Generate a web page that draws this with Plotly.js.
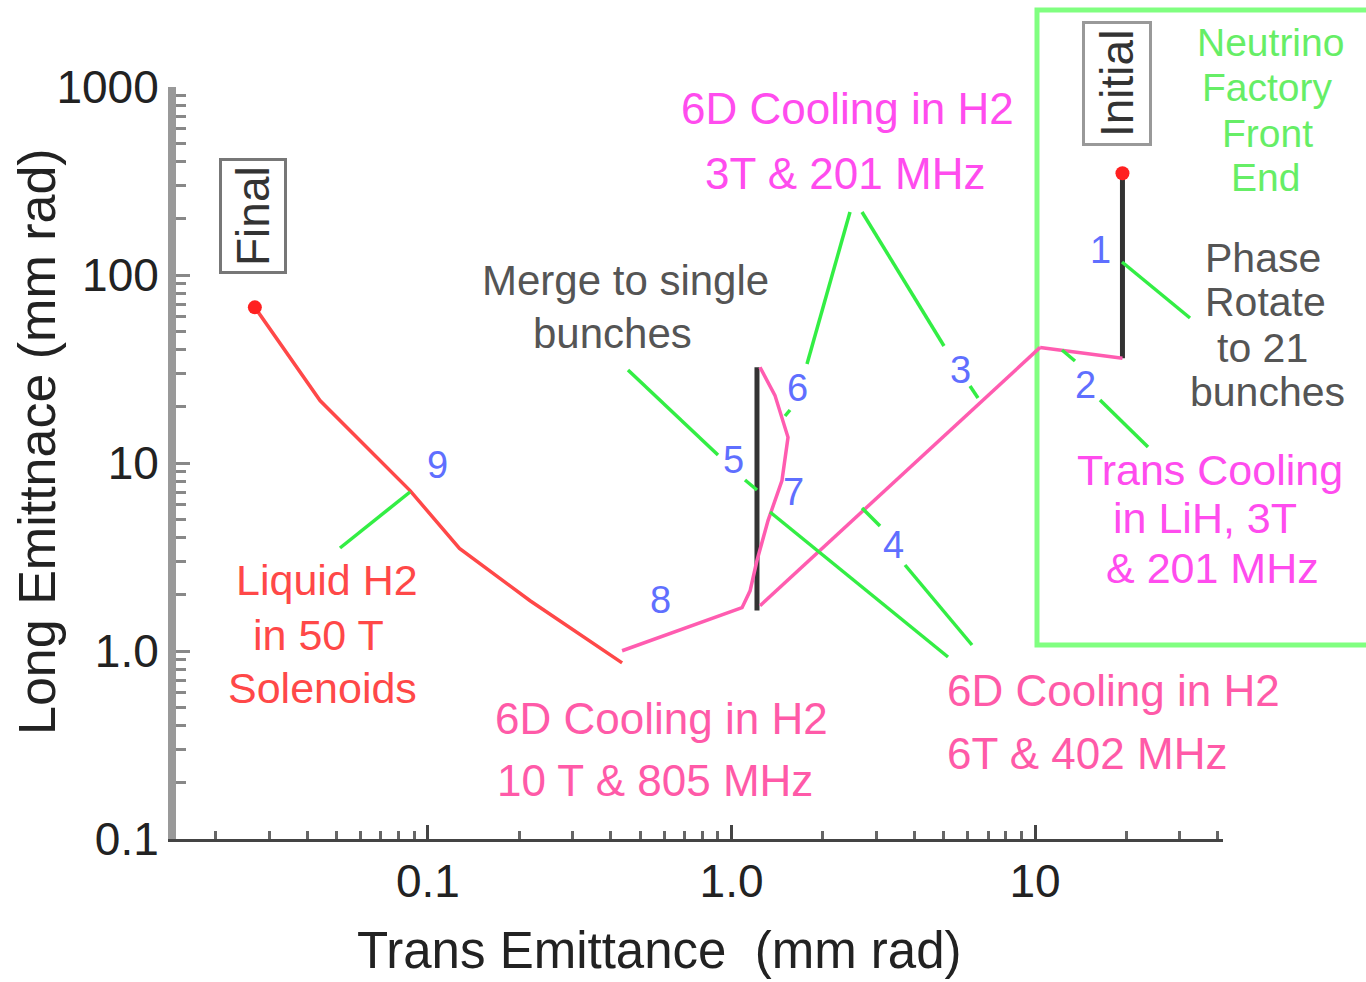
<!DOCTYPE html>
<html>
<head>
<meta charset="utf-8">
<script src="https://cdn.plot.ly/plotly-3.0.1.min.js"></script>
<style>html,body{margin:0;padding:0;background:#fff;}#chart{width:1366px;height:982px;}</style>
</head>
<body>
<div id="chart"></div>
<script>
// ---- data (Trans emittance x, Long emittance y, mm rad) ----
const phaseX = [19.4, 19.4];            // 1: phase rotate
const phaseY = [348, 36.1];
const transX = [19.4, 10.39];           // 2: trans cooling LiH
const transY = [36.1, 41.2];
const diagX = [10.39, 1.241];           // 3-4: 6D cooling 201/402 MHz
const diagY = [41.2, 1.74];
const mergeX = [1.213, 1.213];          // 5: merge to single bunch
const mergeY = [1.64, 32.3];
const recoolX = [1.241, 1.390, 1.535, 1.466, 1.319, 1.213, 1.151, 1.083, 0.436]; // 6-8
const recoolY = [32.3, 22.9, 13.7, 8.07, 4.94, 3.03, 2.09, 1.70, 1.003];
const finalX = [0.436, 0.217, 0.127, 0.0873, 0.0441, 0.0269];  // 9: liquid H2 50 T
const finalY = [0.865, 1.85, 3.51, 7.13, 21.5, 67.3];
const endX = [0.0269, 19.4];            // final & initial points
const endY = [67.3, 348];

const xTickVals = [0.1, 1, 10];
const xTickText = ['0.1', '1.0', '10'];
const yTickVals = [0.1, 1, 10, 100, 1000];
const yTickText = ['0.1', '1.0', '10', '100', '1000'];
const xTitle = 'Trans Emittance \u00a0(mm rad)';
const yTitle = 'Long Emittnace (mm rad)';

const FONT = 'Liberation Sans, Arial, sans-serif';
const L = 176, T = 87, W = 1047, H = 752;
const PX = p => (p - L) / W;
const PY = p => (T + H - p) / H;

const PINK = '#ff5cb0', RED = '#ff4848', BLACK = '#333333', GREEN = '#33ee44';

const traces = [
  {x: phaseX, y: phaseY, mode: 'lines', line: {color: BLACK, width: 5}},
  {x: mergeX, y: mergeY, mode: 'lines', line: {color: BLACK, width: 5}},
  {x: transX, y: transY, mode: 'lines', line: {color: PINK, width: 3.5}},
  {x: diagX, y: diagY, mode: 'lines', line: {color: PINK, width: 3.5}},
  {x: recoolX, y: recoolY, mode: 'lines', line: {color: PINK, width: 3.5}},
  {x: finalX, y: finalY, mode: 'lines', line: {color: RED, width: 3.5}},
  {x: endX, y: endY, mode: 'markers', marker: {color: '#ff2020', size: 14}}
];

function txt(s, px, py, color, size, extra) {
  return Object.assign({xref: 'paper', yref: 'paper', x: PX(px), y: PY(py), text: s,
    showarrow: false, xanchor: 'center', yanchor: 'middle',
    font: {family: FONT, size: size, color: color}}, extra || {});
}

const MAG = '#ff4cee', PNK = '#ff5aa8', GRN = '#66ee66', GRY = '#555555', BLUE = '#5f6fff';
const annotations = [
  txt(xTitle, 659, 950, '#222', 51),
  txt(yTitle, 37, 442, '#222', 52, {textangle: -90}),
  txt('6D Cooling in H2', 847, 108, MAG, 44),
  txt('3T &amp; 201 MHz', 845, 173, MAG, 44),
  txt('Merge to single', 625, 280, GRY, 42),
  txt('bunches', 612, 333, GRY, 42),
  txt('Neutrino', 1270, 43, GRN, 39),
  txt('Factory', 1267, 88, GRN, 39),
  txt('Front', 1267, 133, GRN, 39),
  txt('End', 1265, 178, GRN, 39),
  txt('Phase', 1263, 258, GRY, 41),
  txt('Rotate', 1265, 302, GRY, 41),
  txt('to 21', 1262, 348, GRY, 41),
  txt('bunches', 1267, 392, GRY, 41),
  txt('Trans Cooling', 1210, 470, MAG, 43),
  txt('in LiH, 3T', 1205, 518, MAG, 43),
  txt('&amp; 201 MHz', 1212, 568, MAG, 43),
  txt('Liquid H2', 327, 580, RED, 43),
  txt('in 50 T', 318, 635, RED, 43),
  txt('Solenoids', 322, 688, RED, 43),
  txt('6D Cooling in H2', 661, 718, PNK, 44),
  txt('10 T &amp; 805 MHz', 655, 780, PNK, 44),
  txt('6D Cooling in H2', 945, 690, PNK, 44, {xanchor: 'left'}),
  txt('6T &amp; 402 MHz', 945, 753, PNK, 44, {xanchor: 'left'}),
  txt('1', 1100, 250, BLUE, 38),
  txt('2', 1085, 385, BLUE, 38),
  txt('3', 960, 370, BLUE, 38),
  txt('4', 893, 545, BLUE, 38),
  txt('5', 733, 460, BLUE, 38),
  txt('6', 797, 388, BLUE, 38),
  txt('7', 793, 492, BLUE, 38),
  txt('8', 660, 600, BLUE, 38),
  txt('9', 437, 465, BLUE, 38),
  txt('Final', 253, 216, '#333', 46, {textangle: -90, bordercolor: '#777', borderwidth: 3, borderpad: 5, bgcolor: '#fff'}),
  txt('Initial', 1117, 84, '#333', 46, {textangle: -90, bordercolor: '#999', borderwidth: 3, borderpad: 6, bgcolor: '#fff'})
];

function seg(x0, y0, x1, y1, color, width) {
  return {type: 'line', xref: 'paper', yref: 'paper', x0: PX(x0), y0: PY(y0), x1: PX(x1), y1: PY(y1),
    line: {color: color, width: width}, layer: 'above'};
}
const shapes = [
  {type: 'rect', xref: 'paper', yref: 'paper', x0: PX(1037), x1: PX(1372), y0: PY(645), y1: PY(10),
   line: {color: '#80ff80', width: 5}, layer: 'below'},
  seg(850, 212, 807, 364, GREEN, 3.5),
  seg(790, 410, 785, 416, GREEN, 3.5),
  seg(862, 212, 944, 346, GREEN, 3.5),
  seg(970, 386, 978, 398, GREEN, 3.5),
  seg(628, 370, 718, 455, GREEN, 3.5),
  seg(745, 480, 757, 490, GREEN, 3.5),
  seg(770, 512, 948, 657, GREEN, 3.5),
  seg(862, 508, 880, 526, GREEN, 3.5),
  seg(905, 565, 972, 645, GREEN, 3.5),
  seg(1122, 262, 1190, 318, GREEN, 3.5),
  seg(1062, 350, 1075, 361, GREEN, 3.5),
  seg(1100, 400, 1148, 447, GREEN, 3.5),
  seg(340, 548, 410, 492, GREEN, 3.5)
];

const layout = {
  width: 1366, height: 982,
  margin: {l: L, r: 1366 - L - W, t: T, b: 982 - T - H},
  paper_bgcolor: '#fff', plot_bgcolor: '#fff',
  showlegend: false,
  font: {family: FONT, color: '#222'},
  xaxis: {
    type: 'log', range: [-1.830, 1.619],
    tickmode: 'array', tickvals: xTickVals, ticktext: xTickText,
    ticks: 'inside', ticklen: 14, tickwidth: 3, tickcolor: '#444',
    minor: {dtick: 'D1', ticks: 'inside', ticklen: 8, tickwidth: 3, tickcolor: '#666', showgrid: false},
    showline: true, linecolor: '#444', linewidth: 3,
    showgrid: false, zeroline: false,
    tickfont: {family: FONT, size: 46, color: '#222'}
  },
  yaxis: {
    type: 'log', range: [-1, 3],
    tickmode: 'array', tickvals: yTickVals, ticktext: yTickText,
    ticks: 'inside', ticklen: 14, tickwidth: 3, tickcolor: '#888',
    minor: {dtick: 'D1', ticks: 'inside', ticklen: 10, tickwidth: 3, tickcolor: '#888', showgrid: false},
    showline: true, linecolor: '#999', linewidth: 8,
    showgrid: false, zeroline: false,
    tickfont: {family: FONT, size: 46, color: '#222'}
  },
  annotations: annotations,
  shapes: shapes
};

Plotly.newPlot('chart', traces, layout, {displayModeBar: false, staticPlot: true});
</script>
</body>
</html>
